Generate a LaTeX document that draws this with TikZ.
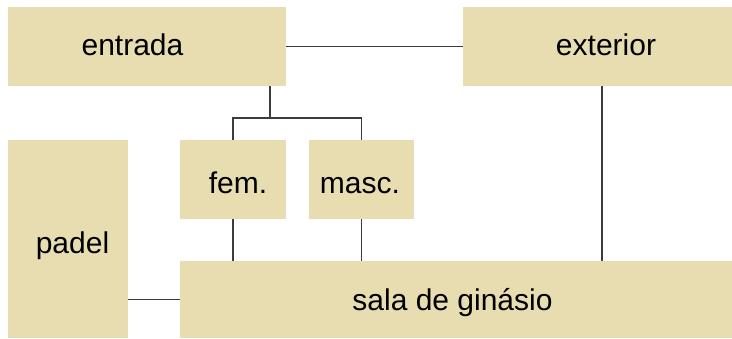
\documentclass[tikz,border=0pt]{standalone}
\usepackage{fontspec}
\setmainfont{Liberation Sans}
\definecolor{boxfill}{HTML}{E8DDB0}
\definecolor{linegray}{HTML}{3C3C3C}
\tikzset{
  room/.style={fill=boxfill, draw=none, inner sep=0pt, outer sep=0pt, rectangle},
  lbl/.style={font=\fontsize{30}{33}\selectfont, text=black, inner sep=0pt, anchor=base},
  conn/.style={draw=linegray, line width=1.4pt}
}
\begin{document}
\begin{tikzpicture}[x=1pt,y=-1pt]
\useasboundingbox (0,0) rectangle (732,338);
% rooms
\node[room, minimum width=278pt, minimum height=79pt] (entrada) at (147,46.5) {};
\node[room, minimum width=269pt, minimum height=79pt] (exterior) at (597.5,46.5) {};
\node[room, minimum width=120pt, minimum height=198pt] (padel) at (68,239) {};
\node[room, minimum width=106pt, minimum height=79pt] (fem) at (233,179.5) {};
\node[room, minimum width=105pt, minimum height=79pt] (masc) at (361.5,179.5) {};
\node[room, minimum width=552pt, minimum height=77pt] (sala) at (456,299.5) {};
% labels
\node[lbl] (tentrada) at (132.5,55) {entrada};
\node[lbl] (texterior) at (606,55) {exterior};
\node[lbl] (tfem) at (238,193) {fem.};
\node[lbl] (tmasc) at (360,193) {masc.};
\node[lbl] (tpadel) at (72.5,253) {padel};
\node[lbl] (tsala) at (452.5,310) {sala de ginásio};
% connectors
\coordinate (j) at (270,118);
\coordinate (e) at (602,0);
\draw[conn] (entrada.east) -- (exterior.west);
\draw[conn] (entrada.south -| j) -- (j);
\draw[conn] (fem.north) -- (fem.north |- j) -- (masc.north |- j) -- (masc.north);
\draw[conn] (fem.south) -- (fem.south |- sala.north);
\draw[conn] (masc.south) -- (masc.south |- sala.north);
\draw[conn] (exterior.south -| e) -- (sala.north -| e);
\draw[conn] (sala.west -| padel.east) -- (sala.west);
\end{tikzpicture}
\end{document}
